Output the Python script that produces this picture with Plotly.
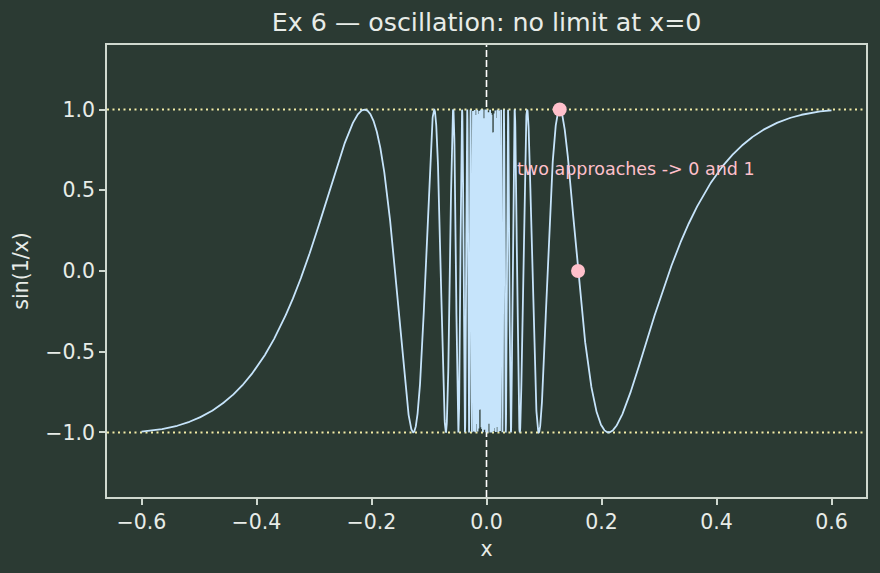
import numpy as np
import plotly.graph_objects as go

# data
x_min, x_max, n_samples = -0.6, 0.6, 6000
x_vals = np.linspace(x_min, x_max, n_samples)
y_vals = np.sin(1.0 / x_vals)
bound_levels = [1.0, -1.0]
pts_x = [0.1273, 0.1592]
pts_y = [1.0, 0.0]
note_text = "two approaches -> 0 and 1"
note_x, note_y = 0.05, 0.63
x_ticks = [-0.6, -0.4, -0.2, 0.0, 0.2, 0.4, 0.6]
x_tick_labels = ["−0.6", "−0.4", "−0.2", "0.0", "0.2", "0.4", "0.6"]
y_ticks = [-1.0, -0.5, 0.0, 0.5, 1.0]
y_tick_labels = ["−1.0", "−0.5", "0.0", "0.5", "1.0"]

BG = "#2b3a33"
FG = "#e8ece8"
AX = "#cfd8cf"

fig = go.Figure()
for lv in bound_levels:
    fig.add_trace(go.Scatter(x=[-0.66, 0.66], y=[lv, lv], mode="lines",
                             line=dict(color="#f3eca6", width=2, dash="2px,3.5px"),
                             hoverinfo="skip", showlegend=False))
fig.add_trace(go.Scatter(x=[0, 0], y=[-1.4, 1.4], mode="lines",
                         line=dict(color="#ffffff", width=1.6, dash="7px,3px"),
                         hoverinfo="skip", showlegend=False))
fig.add_trace(go.Scatter(x=x_vals, y=y_vals, mode="lines",
                         line=dict(color="#c6e4fb", width=1.8),
                         showlegend=False))
fig.add_trace(go.Scatter(x=pts_x, y=pts_y, mode="markers",
                         marker=dict(color="#ffc0cb", size=14),
                         showlegend=False))
fig.add_annotation(x=note_x, y=note_y, text=note_text, showarrow=False,
                   xanchor="left", yanchor="middle",
                   font=dict(color="#ffc0cb", size=17.5))

fig.update_layout(
    width=880, height=573,
    paper_bgcolor=BG, plot_bgcolor=BG,
    margin=dict(l=107, r=14, t=45, b=76),
    font=dict(family="DejaVu Sans", color=FG, size=20.5),
    title=dict(text="Ex 6 — oscillation: no limit at x=0", x=0.553, xanchor="center",
               y=0.962, yanchor="middle", font=dict(size=25.3, color=FG)),
)
fig.update_xaxes(range=[-0.66, 0.66], tickvals=x_ticks, ticktext=x_tick_labels,
                 showgrid=False, zeroline=False, showline=True, linecolor=AX,
                 linewidth=1.6, mirror=True, ticks="outside", ticklen=6,
                 tickcolor=AX, tickwidth=1.6, tickfont=dict(size=20.5, color=FG),
                 title=dict(text="x", font=dict(size=20.5, color=FG), standoff=8))
fig.update_yaxes(range=[-1.4, 1.4], tickvals=y_ticks, ticktext=y_tick_labels,
                 showgrid=False, zeroline=False, showline=True, linecolor=AX,
                 linewidth=1.6, mirror=True, ticks="outside", ticklen=6,
                 tickcolor=AX, tickwidth=1.6, tickfont=dict(size=20.5, color=FG),
                 title=dict(text="sin(1/x)", font=dict(size=20.5, color=FG), standoff=11))
fig.write_html("out.html")
